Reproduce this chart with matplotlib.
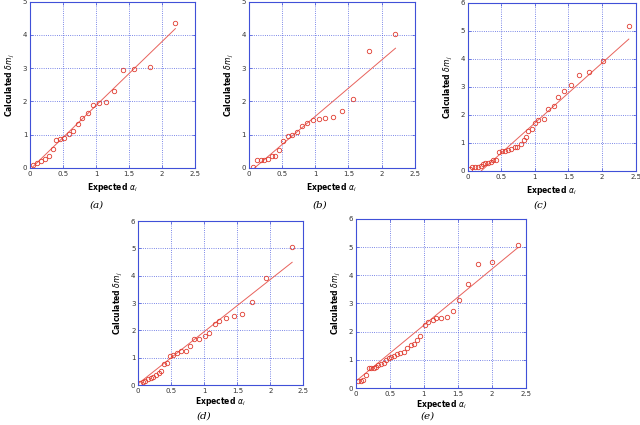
import matplotlib
matplotlib.use("Agg")
import matplotlib.pyplot as plt
from matplotlib.ticker import MultipleLocator

# panel (a)
a_x = [0.05, 0.11, 0.16, 0.22, 0.28, 0.34, 0.40, 0.46, 0.52, 0.59, 0.65, 0.72, 0.79,
       0.88, 0.96, 1.05, 1.15, 1.27, 1.40, 1.57, 1.81, 2.20]
a_y = [0.08, 0.16, 0.21, 0.26, 0.36, 0.57, 0.85, 0.86, 0.90, 1.02, 1.10, 1.32, 1.50,
       1.64, 1.88, 1.94, 1.97, 2.32, 2.94, 2.99, 3.05, 4.35]
a_fit_x = [0.04, 2.20]
a_fit_y = [0.03, 4.19]

# panel (b)
b_x = [0.055, 0.12, 0.18, 0.23, 0.29, 0.35, 0.40, 0.46, 0.52, 0.59, 0.65, 0.72, 0.80,
       0.88, 0.97, 1.05, 1.15, 1.27, 1.41, 1.57, 1.81, 2.21]
b_y = [0.02, 0.23, 0.23, 0.25, 0.26, 0.35, 0.36, 0.53, 0.81, 0.96, 0.98, 1.07, 1.26,
       1.36, 1.45, 1.46, 1.50, 1.54, 1.70, 2.08, 3.53, 4.03]
b_fit_x = [0.085, 2.21]
b_fit_y = [0.0, 3.60]

# panel (c)
c_x = [0.025, 0.065, 0.11, 0.15, 0.19, 0.22, 0.26, 0.30, 0.34, 0.38, 0.42, 0.46, 0.51,
       0.55, 0.60, 0.65, 0.70, 0.74, 0.80, 0.84, 0.87, 0.90, 0.95, 1.00, 1.05, 1.13,
       1.19, 1.28, 1.35, 1.44, 1.54, 1.66, 1.81, 2.01, 2.40]
c_y = [0.06, 0.12, 0.12, 0.14, 0.19, 0.24, 0.27, 0.27, 0.31, 0.37, 0.40, 0.69, 0.71,
       0.72, 0.75, 0.78, 0.84, 0.86, 0.96, 1.12, 1.20, 1.41, 1.49, 1.70, 1.80, 1.86,
       2.22, 2.31, 2.64, 2.85, 3.08, 3.42, 3.54, 3.94, 5.16]
c_fit_x = [0.20, 2.40]
c_fit_y = [0.0, 4.71]

# panel (d)
d_x = [0.025, 0.065, 0.105, 0.146, 0.19, 0.23, 0.27, 0.31, 0.35, 0.39, 0.43, 0.48,
       0.53, 0.59, 0.65, 0.72, 0.78, 0.84, 0.92, 1.01, 1.07, 1.16, 1.23, 1.33, 1.45,
       1.57, 1.72, 1.94, 2.33]
d_y = [0.08, 0.11, 0.15, 0.21, 0.26, 0.30, 0.36, 0.44, 0.52, 0.77, 0.82, 1.06, 1.10,
       1.19, 1.23, 1.26, 1.44, 1.67, 1.68, 1.80, 1.90, 2.23, 2.36, 2.47, 2.52, 2.60,
       3.03, 3.93, 5.04]
d_fit_x = [0.0, 2.33]
d_fit_y = [0.05, 4.49]

# panel (e)
e_x = [0.035, 0.07, 0.11, 0.15, 0.19, 0.225, 0.26, 0.30, 0.33, 0.37, 0.41, 0.44, 0.48,
       0.51, 0.56, 0.60, 0.65, 0.70, 0.75, 0.81, 0.86, 0.90, 0.94, 1.01, 1.06, 1.14,
       1.18, 1.25, 1.34, 1.42, 1.51, 1.64, 1.79, 2.00, 2.38]
e_y = [0.24, 0.25, 0.28, 0.45, 0.70, 0.72, 0.72, 0.76, 0.82, 0.85, 0.90, 1.01, 1.06,
       1.09, 1.14, 1.19, 1.25, 1.29, 1.41, 1.53, 1.55, 1.70, 1.84, 2.23, 2.34, 2.43,
       2.47, 2.47, 2.51, 2.74, 3.14, 3.68, 4.39, 4.46, 5.07]
e_fit_x = [0.0, 2.38]
e_fit_y = [0.24, 4.98]

# label, data, fit, y max, axes box, caption position (pixels from top-left), xlabel pad
panels = [
    ("(a)", a_x, a_y, a_fit_x, a_fit_y, 5, [0.047, 0.605, 0.258, 0.391], (97, 205), 3),
    ("(b)", b_x, b_y, b_fit_x, b_fit_y, 5, [0.389, 0.605, 0.259, 0.391], (320, 205), 3),
    ("(c)", c_x, c_y, c_fit_x, c_fit_y, 6, [0.731, 0.598, 0.262, 0.395], (540, 205), 3),
    ("(d)", d_x, d_y, d_fit_x, d_fit_y, 6, [0.216, 0.094, 0.258, 0.386], (204, 416), 1),
    ("(e)", e_x, e_y, e_fit_x, e_fit_y, 6, [0.556, 0.087, 0.266, 0.398], (428, 416), 1),
]

W, H = 640, 425
fig = plt.figure(figsize=(W / 100, H / 100), dpi=100)

for label, xs, ys, fx, fy, ymax, pos, cap, xpad in panels:
    ax = fig.add_axes(pos)
    ax.plot(fx, fy, color="#e8625c", lw=0.7)
    ax.plot(xs, ys, "o", ms=3.2, mfc="none", mec="#e03c30", mew=0.6)
    ax.set_xlim(0, 2.5)
    ax.set_ylim(0, ymax)
    ax.xaxis.set_major_locator(MultipleLocator(0.5))
    ax.yaxis.set_major_locator(MultipleLocator(1))
    ax.xaxis.set_major_formatter(plt.FuncFormatter(lambda v, p: "%g" % v))
    ax.grid(True, color="#5060e0", ls=":", lw=0.6)
    for s in ax.spines.values():
        s.set_color("#4050d8")
        s.set_linewidth(0.8)
    ax.tick_params(direction="in", top=True, right=True, length=2, width=0.5,
                   labelsize=5, pad=2, colors="#4050d8", labelcolor="#333333")
    ax.set_xlabel(r"Expected $\alpha_i$", fontsize=5.5, fontweight="bold", labelpad=xpad)
    ax.set_ylabel(r"Calculated $\delta m_j$", fontsize=5.5, fontweight="bold", labelpad=4)
    fig.text(cap[0] / W, 1 - cap[1] / H, label, ha="center", va="center",
             fontsize=7.5, family="serif", style="italic")

fig.savefig("out.png", dpi=100, facecolor="white")
